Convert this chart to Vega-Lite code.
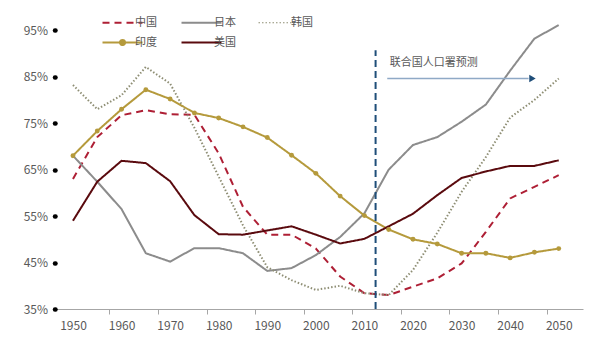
{
  "$schema": "https://vega.github.io/schema/vega-lite/v6.json",
  "autosize": {"type": "none"},
  "width": 528,
  "height": 302,
  "padding": {"left": 55, "top": 7, "right": 17, "bottom": 31},
  "background": "white",
  "config": {
    "view": {"stroke": null},
    "font": "Noto Sans CJK SC",
    "axis": {"labelFont": "Noto Sans CJK SC", "labelColor": "#595959", "labelFontSize": 12, "grid": false, "title": null}
  },
  "datasets": {
    "series": [
      {"year": 1950, "country": "中国", "value": 63},
      {"year": 1955, "country": "中国", "value": 72},
      {"year": 1960, "country": "中国", "value": 76.7},
      {"year": 1965, "country": "中国", "value": 77.8},
      {"year": 1970, "country": "中国", "value": 76.9},
      {"year": 1975, "country": "中国", "value": 76.8},
      {"year": 1980, "country": "中国", "value": 68.5},
      {"year": 1985, "country": "中国", "value": 57},
      {"year": 1990, "country": "中国", "value": 51},
      {"year": 1995, "country": "中国", "value": 51},
      {"year": 2000, "country": "中国", "value": 48},
      {"year": 2005, "country": "中国", "value": 42},
      {"year": 2010, "country": "中国", "value": 38.4},
      {"year": 2015, "country": "中国", "value": 38},
      {"year": 2020, "country": "中国", "value": 39.8},
      {"year": 2025, "country": "中国", "value": 41.6},
      {"year": 2030, "country": "中国", "value": 44.8},
      {"year": 2035, "country": "中国", "value": 51.6},
      {"year": 2040, "country": "中国", "value": 58.8},
      {"year": 2045, "country": "中国", "value": 61.3},
      {"year": 2050, "country": "中国", "value": 63.8},
      {"year": 1950, "country": "日本", "value": 68},
      {"year": 1955, "country": "日本", "value": 62.4},
      {"year": 1960, "country": "日本", "value": 56.5},
      {"year": 1965, "country": "日本", "value": 47},
      {"year": 1970, "country": "日本", "value": 45.2},
      {"year": 1975, "country": "日本", "value": 48.1},
      {"year": 1980, "country": "日本", "value": 48.1},
      {"year": 1985, "country": "日本", "value": 47},
      {"year": 1990, "country": "日本", "value": 43.2},
      {"year": 1995, "country": "日本", "value": 43.8},
      {"year": 2000, "country": "日本", "value": 46.6},
      {"year": 2005, "country": "日本", "value": 50.5},
      {"year": 2010, "country": "日本", "value": 55.6},
      {"year": 2015, "country": "日本", "value": 65},
      {"year": 2020, "country": "日本", "value": 70.3},
      {"year": 2025, "country": "日本", "value": 72},
      {"year": 2030, "country": "日本", "value": 75.3},
      {"year": 2035, "country": "日本", "value": 79},
      {"year": 2040, "country": "日本", "value": 86.3},
      {"year": 2045, "country": "日本", "value": 93.2},
      {"year": 2050, "country": "日本", "value": 96.1},
      {"year": 1950, "country": "韩国", "value": 83.2},
      {"year": 1955, "country": "韩国", "value": 78},
      {"year": 1960, "country": "韩国", "value": 81},
      {"year": 1965, "country": "韩国", "value": 87.1},
      {"year": 1970, "country": "韩国", "value": 83.5},
      {"year": 1975, "country": "韩国", "value": 74},
      {"year": 1980, "country": "韩国", "value": 63.5},
      {"year": 1985, "country": "韩国", "value": 53},
      {"year": 1990, "country": "韩国", "value": 44},
      {"year": 1995, "country": "韩国", "value": 41.2},
      {"year": 2000, "country": "韩国", "value": 39.1},
      {"year": 2005, "country": "韩国", "value": 40},
      {"year": 2010, "country": "韩国", "value": 38.4},
      {"year": 2015, "country": "韩国", "value": 38},
      {"year": 2020, "country": "韩国", "value": 43.4},
      {"year": 2025, "country": "韩国", "value": 51.4},
      {"year": 2030, "country": "韩国", "value": 60.2},
      {"year": 2035, "country": "韩国", "value": 67.7},
      {"year": 2040, "country": "韩国", "value": 76.2},
      {"year": 2045, "country": "韩国", "value": 80},
      {"year": 2050, "country": "韩国", "value": 84.6},
      {"year": 1950, "country": "印度", "value": 68},
      {"year": 1955, "country": "印度", "value": 73.3},
      {"year": 1960, "country": "印度", "value": 78},
      {"year": 1965, "country": "印度", "value": 82.2},
      {"year": 1970, "country": "印度", "value": 80.2},
      {"year": 1975, "country": "印度", "value": 77.2},
      {"year": 1980, "country": "印度", "value": 76.1},
      {"year": 1985, "country": "印度", "value": 74.2},
      {"year": 1990, "country": "印度", "value": 71.9},
      {"year": 1995, "country": "印度", "value": 68.1},
      {"year": 2000, "country": "印度", "value": 64.2},
      {"year": 2005, "country": "印度", "value": 59.3},
      {"year": 2010, "country": "印度", "value": 55.1},
      {"year": 2015, "country": "印度", "value": 52.1},
      {"year": 2020, "country": "印度", "value": 50},
      {"year": 2025, "country": "印度", "value": 49},
      {"year": 2030, "country": "印度", "value": 47},
      {"year": 2035, "country": "印度", "value": 47},
      {"year": 2040, "country": "印度", "value": 46},
      {"year": 2045, "country": "印度", "value": 47.2},
      {"year": 2050, "country": "印度", "value": 48},
      {"year": 1950, "country": "美国", "value": 54},
      {"year": 1955, "country": "美国", "value": 62.4},
      {"year": 1960, "country": "美国", "value": 66.9},
      {"year": 1965, "country": "美国", "value": 66.4},
      {"year": 1970, "country": "美国", "value": 62.5},
      {"year": 1975, "country": "美国", "value": 55.2},
      {"year": 1980, "country": "美国", "value": 51.1},
      {"year": 1985, "country": "美国", "value": 51},
      {"year": 1990, "country": "美国", "value": 51.9},
      {"year": 1995, "country": "美国", "value": 52.8},
      {"year": 2000, "country": "美国", "value": 51},
      {"year": 2005, "country": "美国", "value": 49.1},
      {"year": 2010, "country": "美国", "value": 50.1},
      {"year": 2015, "country": "美国", "value": 52.8},
      {"year": 2020, "country": "美国", "value": 55.5},
      {"year": 2025, "country": "美国", "value": 59.5},
      {"year": 2030, "country": "美国", "value": 63.2},
      {"year": 2035, "country": "美国", "value": 64.6},
      {"year": 2040, "country": "美国", "value": 65.8},
      {"year": 2045, "country": "美国", "value": 65.8},
      {"year": 2050, "country": "美国", "value": 67}
    ],
    "annot": [{"label": "联合国人口署预测"}]
  },
  "layer": [
    {
      "data": {"name": "series"},
      "mark": {"type": "line", "strokeWidth": 2},
      "encoding": {
        "x": {
          "field": "year", "type": "quantitative",
          "scale": {"domain": [1946.3, 2055], "nice": false, "zero": false},
          "axis": {
            "values": [1950, 1960, 1970, 1980, 1990, 2000, 2010, 2020, 2030, 2040, 2050],
            "format": "d",
            "tickOffset": 36.4,
            "labelOffset": -36.4,
            "tickSize": 5,
            "tickColor": "#A6A6A6",
            "tickOpacity": {"condition": {"test": "datum.value == 2050", "value": 0}, "value": 1},
            "domainColor": "#A6A6A6",
            "labelPadding": 6,
            "labelFlush": false,
            "labelOverlap": false,
            "labelBound": false
          }
        },
        "y": {
          "field": "value", "type": "quantitative",
          "scale": {"domain": [35, 100], "nice": false, "zero": false},
          "axis": {
            "values": [35, 45, 55, 65, 75, 85, 95],
            "labelExpr": "datum.value + '%'",
            "domain": false,
            "tickSize": 0.5,
            "tickWidth": 4.5,
            "tickCap": "round",
            "tickColor": "#000000",
            "labelPadding": 7,
            "labelOverlap": false
          }
        },
        "color": {
          "field": "country", "type": "nominal",
          "scale": {"domain": ["中国", "日本", "韩国", "印度", "美国"], "range": ["#AE1F35", "#8C8C8C", "#8E8E74", "#B59A3C", "#5A0A0E"]},
          "legend": {
            "title": null,
            "orient": "none",
            "legendX": 62,
            "legendY": 10,
            "direction": "horizontal",
            "columns": 3,
            "columnPadding": 20,
            "rowPadding": 7,
            "padding": 0,
            "symbolType": "stroke",
            "symbolSize": 1600,
            "symbolStrokeWidth": 2,
            "labelFont": "Noto Sans CJK SC",
            "labelFontSize": 11,
            "labelColor": "#595959",
            "labelOffset": 7,
            "encode": {
              "symbols": {
                "update": {
                  "shape": {"signal": "datum.value === '印度' ? 'M-1,0H1M0.13,0A0.13,0.13 0 1,1 -0.13,0A0.13,0.13 0 1,1 0.13,0Z' : 'stroke'"},
                  "fill": {"signal": "datum.value === '印度' ? '#B59A3C' : 'transparent'"},
                  "strokeWidth": {"signal": "datum.value === '韩国' ? 1.2 : 2"}
                }
              }
            }
          }
        },
        "strokeDash": {
          "field": "country", "type": "nominal",
          "scale": {"domain": ["中国", "日本", "韩国", "印度", "美国"], "range": [[7, 5], [1, 0], [1.5, 2], [1, 0], [1, 0]]},
          "legend": {"title": null}
        },
        "strokeWidth": {
          "condition": {"test": "datum.country === '韩国'", "value": 1.2},
          "value": 2
        }
      }
    },
    {
      "data": {"name": "series"},
      "transform": [{"filter": "datum.country === '印度'"}],
      "mark": {"type": "point", "filled": true, "size": 24, "opacity": 1, "color": "#B59A3C"},
      "encoding": {
        "x": {"field": "year", "type": "quantitative"},
        "y": {"field": "value", "type": "quantitative"}
      }
    },
    {
      "data": {"name": "annot"},
      "mark": {"type": "rule", "color": "#1F4E79", "strokeWidth": 2, "strokeDash": [7, 4]},
      "encoding": {
        "x": {"datum": 2012.3},
        "y": {"datum": 35},
        "y2": {"datum": 90.7}
      }
    },
    {
      "data": {"name": "annot"},
      "mark": {"type": "rule", "color": "#8FA9C6", "strokeWidth": 1.5},
      "encoding": {
        "x": {"datum": 2014.7},
        "x2": {"datum": 2043.8},
        "y": {"datum": 84.6}
      }
    },
    {
      "data": {"name": "annot"},
      "mark": {"type": "point", "shape": "triangle-right", "filled": true, "size": 55, "color": "#1F4E79", "opacity": 1},
      "encoding": {
        "x": {"datum": 2044.6},
        "y": {"datum": 84.6}
      }
    },
    {
      "data": {"name": "annot"},
      "mark": {"type": "text", "align": "left", "baseline": "middle", "fontSize": 11, "color": "#595959", "font": "Noto Sans CJK SC"},
      "encoding": {
        "x": {"datum": 2015.2},
        "y": {"datum": 87.9},
        "text": {"field": "label"}
      }
    }
  ]
}
